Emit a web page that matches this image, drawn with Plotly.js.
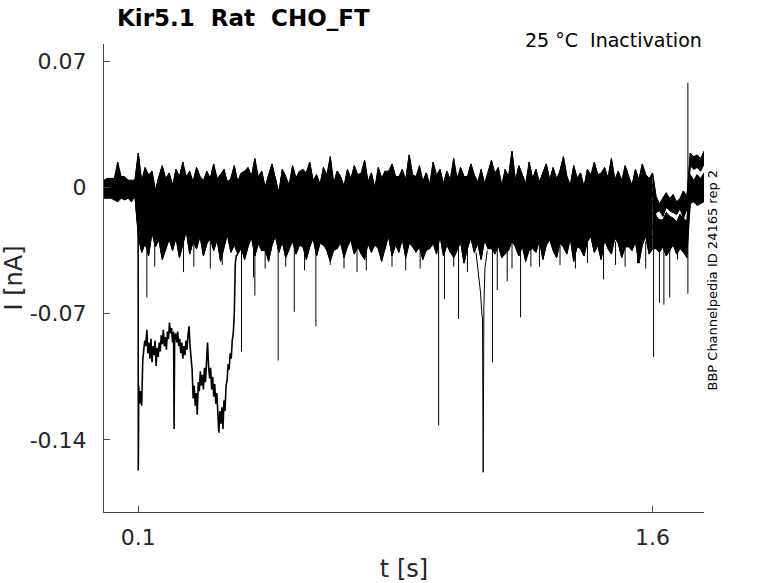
<!DOCTYPE html>
<html>
<head>
<meta charset="utf-8">
<script src="https://cdn.plot.ly/plotly-3.0.1.min.js"></script>
<style>
  html, body { margin: 0; padding: 0; background: #fff; }
  #chart { width: 778px; height: 583px; }
</style>
</head>
<body>
<div id="chart"></div>
<script>
// sample times [s]
const t = [
  0,0.01,0.02,0.03,0.04,0.05,0.06,0.07,0.08,0.09,
  0.1,0.11,0.12,0.13,0.14,0.15,0.16,0.17,0.18,0.19,
  0.2,0.21,0.22,0.23,0.24,0.25,0.26,0.27,0.28,0.29,
  0.3,0.31,0.32,0.33,0.34,0.35,0.36,0.37,0.38,0.39,
  0.4,0.41,0.42,0.43,0.44,0.45,0.46,0.47,0.48,0.49,
  0.5,0.51,0.52,0.53,0.54,0.55,0.56,0.57,0.58,0.59,
  0.6,0.61,0.62,0.63,0.64,0.65,0.66,0.67,0.68,0.69,
  0.7,0.71,0.72,0.73,0.74,0.75,0.76,0.77,0.78,0.79,
  0.8,0.81,0.82,0.83,0.84,0.85,0.86,0.87,0.88,0.89,
  0.9,0.91,0.92,0.93,0.94,0.95,0.96,0.97,0.98,0.99,
  1,1.01,1.02,1.03,1.04,1.05,1.06,1.07,1.08,1.09,
  1.1,1.11,1.12,1.13,1.14,1.15,1.16,1.17,1.18,1.19,
  1.2,1.21,1.22,1.23,1.24,1.25,1.26,1.27,1.28,1.29,
  1.3,1.31,1.32,1.33,1.34,1.35,1.36,1.37,1.38,1.39,
  1.4,1.41,1.42,1.43,1.44,1.45,1.46,1.47,1.48,1.49,
  1.5,1.51,1.52,1.53,1.54,1.55,1.56,1.57,1.58,1.59,
  1.6,1.61,1.62,1.63,1.64,1.65,1.66,1.67,1.68,1.69,
  1.7,1.71,1.72,1.73,1.74,1.75
];
const stepOff = 1.6; // end of the test pulse

// sweep currents [pA]; rows: pre-step, 0.1-1.6 s, 1.61-1.70 s, 1.71-1.75 s
const i1 = [
  2,-4,5,-1,14,-3,4,0,-6,3,
  19,1,11,3,9,-2,6,12,2,7,
  0,10,5,14,-1,8,3,11,6,-3,
  9,4,13,1,7,10,-2,5,12,3,
  8,-1,11,6,16,2,9,0,7,13,
  4,-3,10,6,1,12,5,9,-2,8,
  14,3,7,0,11,5,17,2,9,6,
  -1,10,4,12,7,1,15,3,8,-2,
  11,5,9,2,13,6,0,10,4,18,
  7,1,12,3,8,-1,14,5,10,2,
  9,4,16,0,11,6,3,13,7,-2,
  10,2,8,15,4,11,1,9,6,20,
  3,12,7,0,14,5,10,-1,8,13,
  4,11,2,9,17,6,1,12,5,8,
  0,10,3,14,7,2,11,5,16,4,
  9,-2,12,6,1,10,4,13,7,3,
  8,
  -5,-10,-6,-3,-9,-4,-11,-6,-2,-8,
  19,13,18,15,20
];
const i2 = [
  -3,3,-6,1,-2,6,-5,2,-1,-4,
  -5,4,-2,7,0,-6,5,2,-4,8,
  1,-3,6,-7,3,9,-1,4,-5,2,
  7,-2,0,5,-6,8,3,-4,6,1,
  -3,9,2,-5,4,-1,7,0,-6,5,
  3,-4,8,1,-2,6,-7,4,10,-1,
  2,-5,5,0,7,-3,3,-6,9,1,
  -2,6,-4,4,0,8,-5,2,7,-3,
  5,1,-6,9,3,-2,6,-4,1,7,
  -1,4,-7,3,8,0,-3,5,2,-5,
  6,-2,9,1,-4,4,0,7,-6,3,
  8,-1,2,-5,6,3,-3,10,0,-4,
  4,-6,7,2,-1,5,-4,3,8,0,
  -3,6,1,-5,9,2,-2,4,-7,5,
  0,7,-4,3,-1,8,2,-6,5,1,
  -2,4,6,-3,0,9,-5,3,1,-4,
  2,
  -9,-13,-7,-11,-6,-14,-8,-12,-10,-5,
  12,17,11,16,14
];
const i3 = [
  4,-2,0,-7,3,-1,5,-5,1,-2,
  -9,1,-6,4,-3,-10,2,-1,5,-7,
  0,-5,3,-8,6,-2,-4,1,-11,4,
  -3,5,-7,0,-1,7,-6,2,-9,3,
  -5,1,-8,4,-2,6,-4,0,-10,2,
  5,-6,-1,3,-8,1,-3,6,-7,0,
  -2,4,-9,2,-5,7,-1,-6,3,-4,
  1,-7,5,-3,0,-10,4,-2,6,-5,
  -8,2,-4,5,-1,-6,3,-9,1,4,
  -3,6,-5,0,-7,2,-2,7,-6,1,
  -4,3,-9,5,0,-3,6,-8,2,-1,
  4,-6,1,-2,8,-5,-1,3,-7,5,
  0,-4,6,-9,2,-3,4,-6,1,-10,
  3,-2,5,-7,0,6,-4,2,-8,4,
  -1,-5,7,-3,1,-9,3,-6,5,0,
  -7,4,-2,6,-5,1,-8,3,-3,5,
  -4,
  -14,-9,-16,-11,-13,-8,-15,-10,-17,-12,
  15,10,14,9,13
];
const i4 = [
  -6,1,-3,4,-8,2,-1,-4,3,0,
  -3,-11,-5,0,-13,-7,-2,-9,1,-12,
  -6,-1,-10,-4,-14,-3,-8,2,-11,-5,
  -9,-2,-12,-6,0,-10,-4,-15,-7,-1,
  -11,-5,-8,1,-13,-3,-9,-6,-1,-12,
  -4,-10,-2,-14,-7,0,-11,-5,-3,-9,
  -13,-6,-1,-10,-4,-12,2,-8,-5,-11,
  -2,-9,-6,-14,-1,-7,-11,-3,-10,0,
  -8,-4,-12,-6,-1,-13,-5,-9,1,-7,
  -11,-3,-8,-15,-4,-10,-2,-6,-12,-1,
  -5,-9,0,-11,-7,-3,-13,-6,-2,-10,
  -4,-12,-7,1,-9,-5,-14,-2,-8,-11,
  -1,-6,-10,-3,-13,-7,0,-9,-4,-12,
  -6,-2,-11,-8,-1,-14,-5,-10,-3,-7,
  -12,-4,-9,0,-6,-11,-2,-13,-8,-5,
  -10,-1,-7,-12,-3,-9,-6,-15,-4,-8,
  -2,
  -16,-22,-18,-14,-23,-17,-20,-15,-24,-19,
  6,2,7,1,5
];
const i5 = [
  1,-5,3,-2,-4,5,-7,0,2,-3,
  -6,-15,-9,-3,-17,-11,-5,-13,-2,-16,
  -8,-12,-4,-18,-10,-6,-14,-1,-11,-7,
  -15,-5,-12,-8,-19,-3,-10,-14,-6,-17,
  -9,-2,-13,-7,-16,-11,-4,-12,-8,-1,
  -14,-6,-18,-10,-3,-15,-9,-5,-13,-11,
  -4,-16,-8,-12,-2,-10,-17,-6,-14,-7,
  -11,-3,-15,-9,-5,-13,-1,-18,-8,-12,
  -6,-14,-10,-4,-16,-7,-12,-2,-15,-9,
  -13,-5,-11,-17,-3,-8,-14,-6,-10,-16,
  -2,-12,-7,-15,-9,-4,-18,-11,-6,-13,
  -10,-5,-16,-8,-3,-14,-11,-7,-17,-1,
  -12,-9,-4,-15,-6,-13,-2,-10,-16,-8,
  -5,-14,-11,-3,-17,-9,-6,-12,-1,-15,
  -8,-4,-13,-10,-18,-5,-11,-7,-15,-3,
  -12,-6,-16,-9,-2,-14,-8,-11,-4,-13,
  -7,
  -25,-18,-23,-20,-16,-26,-19,-22,-17,-24,
  -1,4,0,5,-2
];
const i6 = [
  -1,5,-4,0,3,-6,1,-3,-8,4,
  -18,-9,-15,-22,-11,-6,-17,-13,-20,-8,
  -14,-21,-7,-16,-12,-19,-10,-23,-13,-5,
  -11,-17,-20,-9,-15,-6,-18,-12,-22,-14,
  -7,-19,-13,-16,-10,-21,-8,-15,-11,-18,
  -22,-12,-6,-17,-14,-9,-20,-11,-16,-7,
  -15,-19,-10,-13,-21,-8,-14,-18,-6,-17,
  -12,-20,-16,-9,-13,-22,-7,-15,-19,-11,
  -17,-8,-14,-21,-10,-16,-12,-6,-18,-15,
  -9,-19,-13,-11,-20,-7,-16,-22,-12,-14,
  -18,-10,-15,-6,-19,-13,-11,-17,-21,-8,
  -13,-16,-9,-20,-14,-7,-18,-12,-15,-22,
  -10,-17,-21,-11,-8,-15,-19,-13,-6,-16,
  -20,-12,-14,-9,-18,-10,-22,-15,-11,-17,
  -7,-16,-19,-13,-12,-21,-9,-14,-18,-10,
  -15,-22,-11,-17,-8,-13,-20,-6,-16,-12,
  -14,
  -21,-27,-22,-25,-19,-28,-24,-20,-26,-23,
  3,-3,2,-4,1
];
const i7 = [
  3,-3,-1,5,-5,0,-2,4,-4,1,
  -12,-21,-16,-24,-19,-10,-15,-23,-18,-13,
  -25,-14,-20,-11,-17,-22,-9,-19,-15,-24,
  -16,-12,-21,-18,-26,-13,-20,-10,-17,-23,
  -14,-22,-19,-11,-16,-25,-13,-20,-18,-9,
  -21,-15,-24,-12,-19,-17,-23,-10,-16,-22,
  -13,-20,-18,-25,-11,-15,-21,-14,-24,-12,
  -19,-10,-16,-22,-17,-13,-26,-15,-20,-11,
  -23,-18,-12,-21,-15,-24,-16,-10,-19,-14,
  -17,-25,-13,-20,-11,-22,-18,-15,-23,-9,
  -16,-21,-14,-19,-24,-12,-17,-22,-10,-20,
  -13,-18,-23,-15,-11,-21,-16,-25,-14,-19,
  -22,-10,-17,-20,-13,-24,-15,-18,-12,-21,
  -16,-23,-11,-19,-14,-22,-17,-9,-20,-15,
  -24,-13,-18,-12,-21,-16,-10,-23,-17,-14,
  -19,-11,-22,-15,-25,-13,-18,-20,-12,-16,
  -21,
  -29,-23,-27,-22,-30,-25,-28,-24,-31,-26,
  -6,0,-5,1,-7
];
const i8 = [
  -4,0,2,-6,1,-3,6,-2,0,-5,
  -25,-17,-28,-20,-14,-23,-27,-16,-22,-29,
  -18,-24,-13,-26,-21,-15,-28,-19,-25,-17,
  -22,-29,-16,-20,-27,-14,-24,-18,-26,-21,
  -15,-25,-19,-28,-17,-23,-13,-22,-27,-20,
  -26,-16,-24,-21,-29,-18,-14,-25,-19,-23,
  -17,-27,-20,-15,-22,-28,-18,-26,-13,-24,
  -21,-16,-25,-19,-30,-17,-23,-14,-27,-20,
  -28,-22,-15,-24,-18,-26,-21,-29,-16,-23,
  -19,-14,-27,-22,-17,-25,-20,-28,-15,-24,
  -26,-18,-23,-13,-21,-27,-16,-24,-19,-29,
  -17,-22,-28,-20,-15,-25,-18,-23,-27,-14,
  -24,-19,-16,-26,-21,-29,-17,-22,-14,-25,
  -20,-27,-18,-23,-13,-24,-28,-16,-21,-26,
  -15,-22,-25,-19,-27,-17,-20,-29,-18,-23,
  -26,-16,-21,-28,-14,-24,-19,-25,-22,-17,
  -23,
  -25,-31,-26,-29,-24,-32,-27,-30,-23,-28,
  -2,-8,-3,-9,-1
];
const i9 = [
  0,4,-5,2,-1,-4,3,-6,4,-1,
  -27,-36,-31,-38,-25,-33,-29,-40,-34,-26,
  -35,-28,-39,-32,-24,-37,-30,-34,-27,-38,
  -31,-25,-35,-29,-41,-33,-26,-36,-32,-28,
  -34,-26,-30,-20,-33,-27,-23,-35,-29,-25,
  -22,-31,-28,-36,-24,-30,-21,-27,-33,-26,
  -29,-23,-34,-25,-32,-20,-28,-35,-24,-31,
  -26,-33,-22,-30,-27,-37,-23,-29,-25,-32,
  -21,-28,-34,-24,-31,-26,-36,-22,-30,-27,
  -33,-25,-29,-21,-35,-28,-24,-32,-27,-23,
  -30,-36,-26,-31,-22,-29,-34,-25,-28,-20,
  -32,-27,-23,-34,-29,-24,-31,-37,-26,-30,
  -25,-21,-33,-28,-35,-23,-30,-27,-22,-32,
  -29,-34,-24,-31,-26,-36,-21,-28,-33,-25,
  -23,-30,-27,-35,-22,-32,-29,-24,-34,-28,
  -31,-26,-21,-33,-28,-25,-36,-30,-23,-29,
  -27,
  -34,-28,-33,-30,-35,-29,-32,-27,-36,-31,
  -9,-4,-10,-5,-8
];
// this sweep's 0.10-0.38 s stretch is in tExc / iExc below
const i10 = [
  -2,-6,1,-3,5,-2,-5,1,-3,-1,
  null,null,null,null,null,null,null,null,null,null,
  null,null,null,null,null,null,null,null,null,null,
  null,null,null,null,null,null,null,null,null,-37,
  -29,-40,-33,-26,-38,-31,-35,-28,-41,-32,
  -27,-36,-30,-39,-34,-25,-37,-32,-29,-40,
  -33,-28,-38,-31,-26,-35,-41,-30,-34,-27,
  -39,-32,-29,-37,-33,-25,-40,-31,-36,-28,
  -34,-41,-30,-27,-38,-32,-35,-26,-39,-31,
  -29,-36,-33,-40,-28,-34,-31,-37,-26,-38,
  -32,-27,-39,-35,-30,-42,-33,-28,-36,-31,
  -40,-29,-34,-26,-37,-32,-39,-30,-35,-27,
  -33,-38,-31,-41,-28,-34,-36,-29,-40,-32,
  -26,-35,-39,-30,-33,-37,-28,-41,-31,-34,
  -38,-30,-27,-36,-32,-40,-29,-34,-37,-26,
  -31,-39,-33,-28,-35,-30,-42,-32,-27,-37,
  -34,
  -30,-36,-31,-38,-33,-29,-37,-34,-32,-39,
  7,-1,6,0,8
];
const upperSweeps = [i1, i2, i3];
const lowerSweeps = [i4, i5, i6, i7, i8, i9, i10];

// large inward excursion of the last sweep after the step
const tExc = [
  0.09,0.0995,0.1,0.1015,0.104,0.107,0.11,0.113,0.116,0.119,
  0.122,0.125,0.128,0.131,0.134,0.137,0.14,0.143,0.146,0.149,
  0.152,0.155,0.158,0.161,0.164,0.167,0.17,0.173,0.176,0.179,
  0.182,0.185,0.188,0.191,0.194,0.197,0.2,0.203,0.2045,0.206,
  0.209,0.212,0.215,0.218,0.221,0.224,0.227,0.23,0.233,0.236,
  0.239,0.242,0.245,0.248,0.251,0.254,0.257,0.26,0.263,0.266,
  0.269,0.272,0.275,0.278,0.281,0.284,0.287,0.29,0.293,0.296,
  0.299,0.302,0.305,0.308,0.311,0.314,0.317,0.32,0.323,0.326,
  0.329,0.332,0.335,0.338,0.341,0.344,0.347,0.35,0.353,0.356,
  0.359,0.362,0.365,0.368,0.371,0.374,0.377,0.38,0.383,0.386,
  0.39
];
const iExc = [
  -1,-3,-157,-110,-120,-113,-121,-96,-90,-85,
  -88,-79,-92,-86,-95,-84,-97,-88,-93,-85,
  -99,-89,-94,-86,-91,-82,-87,-79,-88,-83,
  -90,-80,-84,-75,-81,-78,-86,-80,-134,-84,
  -81,-86,-80,-88,-84,-92,-86,-95,-88,-93,
  -85,-90,-82,-77,-88,-96,-101,-117,-110,-121,
  -114,-126,-108,-113,-102,-110,-104,-112,-100,-108,
  -95,-86,-99,-106,-100,-112,-105,-116,-109,-120,
  -114,-127,-136,-124,-131,-122,-134,-118,-124,-110,
  -107,-98,-101,-92,-95,-85,-81,-70,-42,-38,
  -37
];

// slow dip around 1.1 s
const tDip = [1.085,1.093,1.098,1.102,1.104,1.106,1.108,1.111,1.118];
const iDip = [-36,-48,-58,-70,-73,-158,-66,-45,-35];

// brief spikes: time [s], low and high ends [pA]
const spikeT  = [0.125,0.148,0.232,0.262,0.31,0.345,0.401,0.436,0.44,0.47,0.508,0.53,0.555,0.585,0.618,0.66,0.70,0.738,0.765,0.84,0.88,0.922,0.976,0.993,1.02,1.034,1.06,1.133,1.147,1.176,1.19,1.215,1.245,1.27,1.33,1.375,1.41,1.457,1.492,1.52,1.556,1.58,1.603,1.62,1.633,1.65,1.673,1.703];
const spikeLo = [-61,-44,-47,-44,-45,-43,-91,-50,-60,-45,-96,-44,-69,-46,-77,-43,-45,-47,-46,-44,-46,-45,-132,-62,-44,-73,-47,-97,-57,-52,-45,-72,-44,-44,-43,-45,-42,-51,-43,-44,-42,-45,-94,-64,-65,-61,-40,-59];
const spikeHi = [-30,-30,-30,-30,-30,-30,-30,-30,-30,-30,-30,-30,-30,-30,-30,-30,-30,-30,-30,-30,-30,-30,-30,-30,-30,-30,-30,-30,-30,-30,-30,-30,-30,-30,-30,-30,-30,-30,-30,-30,-30,-30,-25,-25,-25,-25,-25,58];

const xTickVals = [0.1, 1.6];
const xTickText = ['0.1', '1.6'];
const yTickVals = [-0.14, -0.07, 0, 0.07];
const yTickText = ['-0.14', '-0.07', '0', '0.07'];

const toNA = arr => arr.map(v => v === null ? null : v / 1000);
const line = { color: '#000', width: 1 };
const base = { type: 'scatter', mode: 'lines', line: line, hoverinfo: 'skip', showlegend: false };

// envelope of a group of sweeps over sample range [k0, k1] (dense noise reads as a solid band)
function envelope(group, pick, k0, k1) {
  const out = [];
  for (let k = k0; k <= k1; k++) {
    const vals = group.map(s => s[k]).filter(v => v !== null);
    out.push(pick(...vals) / 1000);
  }
  return out;
}
function band(group, k0, k1) {
  const x = t.slice(k0, k1 + 1);
  return [
    Object.assign({}, base, { x: x, y: envelope(group, Math.max, k0, k1) }),
    Object.assign({}, base, { x: x, y: envelope(group, Math.min, k0, k1), fill: 'tonexty', fillcolor: '#000' })
  ];
}

const kOff = t.indexOf(stepOff);
const kEnd = t.length - 1;
const allSweeps = upperSweeps.concat(lowerSweeps);

const traces = [].concat(
  band(allSweeps, 0, kOff),
  band(upperSweeps, kOff, kEnd),
  band(lowerSweeps, kOff, kEnd)
);
allSweeps.forEach(s => {
  traces.push(Object.assign({}, base, { x: t, y: toNA(s), connectgaps: false }));
});

traces.push(Object.assign({}, base, { x: tExc, y: toNA(iExc), line: { color: '#000', width: 1.6 } }));
traces.push(Object.assign({}, base, { x: tDip, y: toNA(iDip) }));

const sx = [], sy = [];
spikeT.forEach((tt, k) => {
  sx.push(tt, tt, null);
  sy.push(spikeHi[k] / 1000, spikeLo[k] / 1000, null);
});
traces.push(Object.assign({}, base, { x: sx, y: sy }));

const axisFont = { family: 'DejaVu Sans', size: 22, color: '#262626' };

const layout = {
  width: 778,
  height: 583,
  margin: { l: 104, r: 74, t: 44, b: 71 },
  paper_bgcolor: '#fff',
  plot_bgcolor: '#fff',
  font: { family: 'DejaVu Sans', color: '#262626' },
  title: {
    text: '<b>Kir5.1\u00a0\u00a0Rat\u00a0\u00a0CHO_FT</b>',
    font: { family: 'DejaVu Sans', size: 23, color: '#000' },
    x: 117 / 778, xanchor: 'left', xref: 'container',
    y: 1 - 18 / 583, yanchor: 'middle', yref: 'container'
  },
  xaxis: {
    range: [0, 1.75],
    tickvals: xTickVals, ticktext: xTickText,
    ticks: 'inside', ticklen: 6, tickcolor: '#444', tickwidth: 1,
    showline: true, linecolor: '#444', linewidth: 1,
    showgrid: false, zeroline: false,
    tickfont: axisFont, ticklabelstandoff: 6,
    title: { text: 't [s]', font: { family: 'DejaVu Sans', size: 24, color: '#262626' }, standoff: 10 }
  },
  yaxis: {
    range: [-0.18, 0.0795],
    tickvals: yTickVals, ticktext: yTickText,
    ticks: 'inside', ticklen: 6, tickcolor: '#444', tickwidth: 1,
    showline: true, linecolor: '#444', linewidth: 1,
    showgrid: false, zeroline: false,
    tickfont: axisFont, ticklabelstandoff: 12,
    title: { text: 'I [nA]', font: { family: 'DejaVu Sans', size: 24, color: '#262626' }, standoff: 8 }
  },
  annotations: [
    {
      text: '25 °C\u00a0\u00a0Inactivation',
      xref: 'paper', yref: 'paper', x: 1, y: 1 + 4 / 468,
      xanchor: 'right', yanchor: 'middle', showarrow: false,
      font: { family: 'DejaVu Sans', size: 19, color: '#000' }
    },
    {
      text: 'BBP Channelpedia ID 24165 rep 2',
      xref: 'paper', yref: 'paper', x: 1 - 2 / 600, y: (512 - 280) / 468,
      xanchor: 'left', yanchor: 'middle', textangle: -90, showarrow: false,
      font: { family: 'DejaVu Sans', size: 13, color: '#000' }
    }
  ]
};

Plotly.newPlot('chart', traces, layout, { displayModeBar: false, staticPlot: true });
</script>
</body>
</html>
